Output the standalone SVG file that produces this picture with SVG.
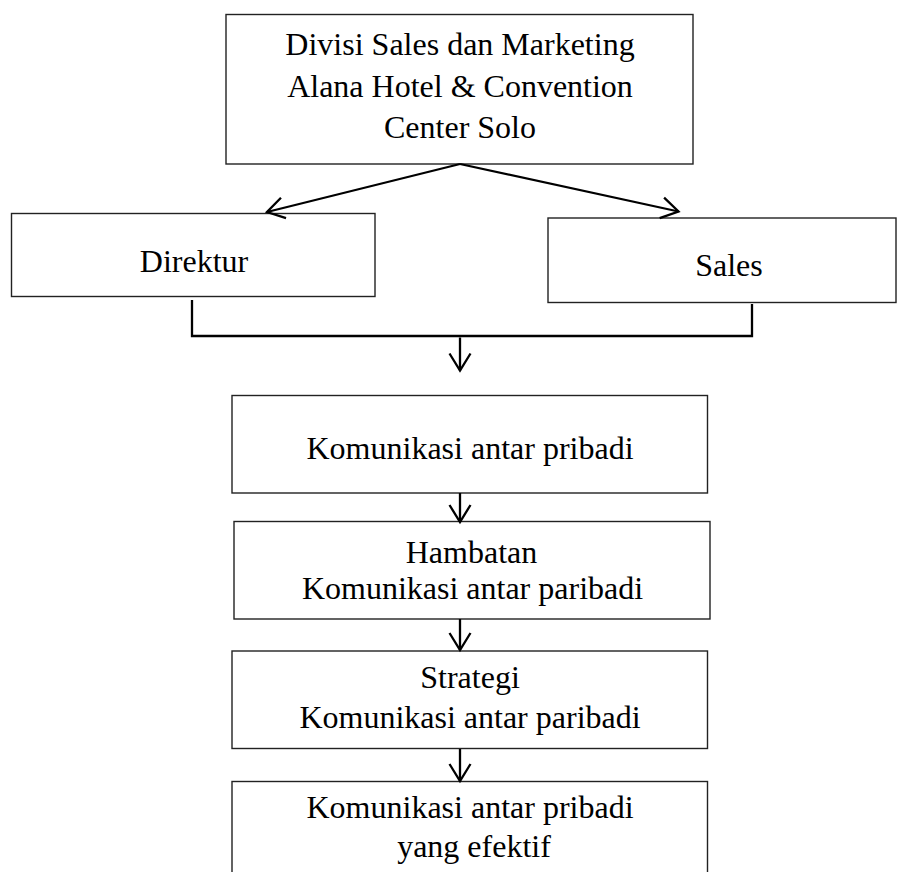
<svg xmlns="http://www.w3.org/2000/svg" width="897" height="872" viewBox="0 0 897 872">
<style>
.box{fill:#fff;stroke:#222;stroke-width:1.4}
.t{font-family:"Liberation Serif","Times New Roman",serif;font-size:32px;fill:#000;text-anchor:middle}
.c{fill:none;stroke:#000;stroke-width:2.3}
</style>
<defs>
<marker id="arr" markerUnits="userSpaceOnUse" orient="auto" markerWidth="1" markerHeight="1" refX="0" refY="0" overflow="visible">
<path d="M-17,-10.5 L0,0 L-17,10.5" fill="none" stroke="#000" stroke-width="2.3"/>
</marker>
</defs>
<rect width="897" height="872" fill="#fff"/>
<g id="n-divisi">
<rect class="box" x="226" y="14.5" width="467" height="149.5"/>
<text class="t" x="460" y="55">Divisi Sales dan Marketing</text>
<text class="t" x="460" y="96.5">Alana Hotel &amp; Convention</text>
<text class="t" x="460" y="138">Center Solo</text>
</g>
<g id="n-direktur">
<rect class="box" x="11.5" y="213.5" width="363.5" height="83"/>
<text class="t" x="194" y="272">Direktur</text>
</g>
<g id="n-sales">
<rect class="box" x="548" y="218" width="348" height="84.5"/>
<text class="t" x="729" y="276">Sales</text>
</g>
<g id="n-kap">
<rect class="box" x="232" y="395.5" width="475.5" height="97.5"/>
<text class="t" x="470" y="459">Komunikasi antar pribadi</text>
</g>
<g id="n-hambatan">
<rect class="box" x="234" y="521.5" width="476" height="97.5"/>
<text class="t" x="471.5" y="562.5">Hambatan</text>
<text class="t" x="472.5" y="599">Komunikasi antar paribadi</text>
</g>
<g id="n-strategi">
<rect class="box" x="232" y="651" width="475.5" height="97.5"/>
<text class="t" x="470" y="688">Strategi</text>
<text class="t" x="470" y="728">Komunikasi antar paribadi</text>
</g>
<g id="n-efektif">
<rect class="box" x="232" y="781.5" width="475.5" height="100"/>
<text class="t" x="470" y="818">Komunikasi antar pribadi</text>
<text class="t" x="474" y="856.5">yang efektif</text>
</g>
<g id="connectors">
<path class="c" d="M460,164 L267,212" marker-end="url(#arr)"/>
<path class="c" d="M460,164 L678.5,211.5" marker-end="url(#arr)"/>
<path class="c" d="M192,300 V336 H752 V304"/>
<path class="c" d="M460,337.5 V370.5" marker-end="url(#arr)"/>
<path class="c" d="M460,493 V522" marker-end="url(#arr)"/>
<path class="c" d="M460,619 V650" marker-end="url(#arr)"/>
<path class="c" d="M460,749 V781" marker-end="url(#arr)"/>
</g>
</svg>
